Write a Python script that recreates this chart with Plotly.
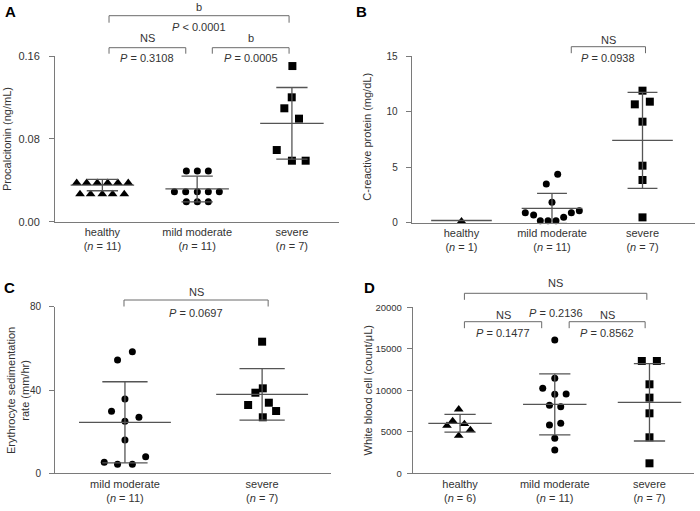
import plotly.graph_objects as go

W, H = 700, 511

# ---------------- data ----------------
CATS3 = ["healthy", "mild moderate", "severe"]
N_A = [11, 11, 7]
N_B = [1, 11, 7]
CATS2 = ["mild moderate", "severe"]
N_C = [11, 7]
N_D = [6, 11, 7]

# Panel A: procalcitonin (ng/mL)
A_healthy = [0.0376, 0.0376, 0.0376, 0.0376, 0.0376, 0.0376,
             0.0267, 0.0267, 0.0267, 0.0267, 0.0267]
A_mild = [0.049, 0.049, 0.049, 0.029, 0.029, 0.029, 0.029, 0.029,
          0.0193, 0.0193, 0.0193]
A_severe = [0.1503, 0.1201, 0.1095, 0.0995, 0.0692, 0.0589, 0.0589]
A_mean = [0.0354, 0.0316, 0.095]
A_sd = [0.0055, 0.0124, 0.0346]

# Panel B: C-reactive protein (mg/dL)
B_healthy = [0.13]
B_mild = [0.9, 0.69, 0.18, 0.18, 0.18, 1.83, 3.48, 4.35, 0.48, 0.9, 1.08]
B_severe = [11.88, 10.65, 10.89, 9.09, 5.13, 3.84, 0.48]
B_mean = [0.2, 1.29, 7.41]
B_sd = [None, 1.35, 4.32]

# Panel C: erythrocyte sedimentation rate (mm/hr)
C_mild = [58.4, 54.4, 35.7, 29.8, 26.9, 25.0, 16.0, 8.0, 5.3, 4.3, 4.3]
C_severe = [63.2, 38.7, 40.8, 32.8, 33.9, 29.9, 26.9]
C_mean = [24.5, 37.9]
C_sd = [19.45, 12.4]

# Panel D: white blood cell (count/uL)
D_healthy = [7711, 6305, 5743, 5944, 5221, 4538]
D_mild = [16064, 11446, 10241, 9518, 9558, 8193, 8032, 5823, 6024, 4217, 2811]
D_severe = [13534, 13534, 10723, 9116, 7229, 4337, 1205]
D_mean = [6024, 8313, 8554]
D_sd = [1065, 3675, 4660]

# ---------------- layout helpers (positions / styles) ----------------
# horizontal scatter offsets (category units) of the dot-plot arrangement
JIT_A = [
    [-0.271, -0.166, -0.054, 0.056, 0.164, 0.273, -0.236, -0.124, -0.001, 0.108, 0.231],
    [-0.114, 0.002, 0.118, -0.24, -0.121, 0.002, 0.118, 0.234, -0.114, 0.002, 0.118],
    [0.005, -0.002, -0.08, 0.075, -0.16, 0.0, 0.145],
]
JIT_B = [
    [0.0],
    [-0.295, -0.203, -0.129, -0.044, 0.044, 0.0, -0.063, 0.063, 0.129, 0.214, 0.302],
    [0.0, -0.085, 0.081, 0.0, 0.0, 0.0, 0.0],
]
JIT_C = [
    [0.054, -0.054, 0.0, -0.098, 0.102, 0.0, 0.0, 0.151, -0.151, -0.054, 0.054],
    [0.0, -0.049, 0.005, -0.102, 0.049, 0.102, 0.005],
]
JIT_D = [
    [-0.014, -0.078, -0.138, 0.046, 0.109, -0.014],
    [0.0, 0.0, -0.127, 0.0, 0.12, -0.056, 0.063, -0.056, 0.063, 0.0, 0.0],
    [-0.081, 0.078, 0.0, 0.0, 0.0, 0.0, 0.0],
]

SYMS3 = ["triangle-up", "circle", "square"]
SYMS2 = ["circle", "square"]
MSIZE = {"triangle-up": 8.5, "circle": 7, "square": 8}

TXT = "#333333"
AX = "#7a7a7a"
LN = "#555555"
FONT = "Liberation Sans, Arial, sans-serif"

# panel boxes in pixels: x0, x1, ytop, ybottom ; y tick font size ; tick label standoff
BOX = {
    "A": (55, 339.3, 56, 221.7, 11, 7),
    "B": (411.7, 695, 56, 222.7, 10, 6),
    "C": (55, 330.7, 306.7, 473.3, 10, 6),
    "D": (412.7, 694, 307.3, 473.3, 9.5, 3),
}


def py(ypx):
    return 1 - ypx / H


fig = go.Figure()

panels = [
    ("A", "", [A_healthy, A_mild, A_severe], JIT_A, SYMS3, A_mean, A_sd, CATS3, N_A,
     [-0.5, 2.5], [0, 0.16], [0, 0.08, 0.16], ".2f"),
    ("B", "2", [B_healthy, B_mild, B_severe], JIT_B, SYMS3, B_mean, B_sd, CATS3, N_B,
     [-0.55, 2.58], [0, 15], [0, 5, 10, 15], "d"),
    ("C", "3", [C_mild, C_severe], JIT_C, SYMS2, C_mean, C_sd, CATS2, N_C,
     [-0.51, 1.5], [0, 80], [0, 40, 80], "d"),
    ("D", "4", [D_healthy, D_mild, D_severe], JIT_D, SYMS3, D_mean, D_sd, CATS3, N_D,
     [-0.5, 2.47], [0, 20000], [0, 5000, 10000, 15000, 20000], "d"),
]

for key, sfx, groups, jit, syms, means, sds, cats, ns, xr, yr, tv, fmt in panels:
    xa, ya = "x" + sfx, "y" + sfx
    for i, vals in enumerate(groups):
        fig.add_trace(go.Scatter(
            x=[i + o for o in jit[i]], y=vals, mode="markers", xaxis=xa, yaxis=ya,
            marker=dict(symbol=syms[i], size=MSIZE[syms[i]], color="black", line=dict(width=0)),
            cliponaxis=False, showlegend=False, hoverinfo="skip"))
    lx, ly = [], []
    for i, (m, s) in enumerate(zip(means, sds)):
        lx += [i - 0.335, i + 0.335, None]
        ly += [m, m, None]
        if s is not None:
            lx += [i - 0.165, i + 0.165, None, i - 0.165, i + 0.165, None, i, i, None]
            ly += [m + s, m + s, None, m - s, m - s, None, m - s, m + s, None]
    fig.add_trace(go.Scatter(x=lx, y=ly, mode="lines", xaxis=xa, yaxis=ya,
                             line=dict(color=LN, width=1.3), showlegend=False, hoverinfo="skip"))

    x0, x1, yt, yb, yfs, ystand = BOX[key]
    axname = "xaxis" + sfx
    ayname = "yaxis" + sfx
    fig.layout[axname] = dict(
        domain=[x0 / W, x1 / W], anchor=ya, range=xr, tickvals=list(range(len(cats))),
        ticktext=[f"{c}<br>(<i>n</i> = {n})" for c, n in zip(cats, ns)],
        showline=True, linecolor=AX, linewidth=1, ticks="", showgrid=False, zeroline=False,
        tickfont=dict(family=FONT, size=11, color=TXT), fixedrange=True, automargin=False)
    fig.layout[ayname] = dict(
        domain=[py(yb), py(yt)], anchor=xa, range=yr, tickvals=tv, tickformat=fmt,
        showline=True, linecolor=AX, linewidth=1, ticks="outside", ticklen=5, tickcolor=AX,
        ticklabelstandoff=ystand,
        showgrid=False, zeroline=False, tickfont=dict(family=FONT, size=yfs, color=TXT),
        fixedrange=True, automargin=False)

# ---------------- significance brackets ----------------
BRACKETS = [
    ("", 0.07, 1.97, 15.7, 7, "b", 7.3, "<i>P</i> < 0.0001", 26.7),
    ("", 0.07, 0.88, 47.7, 6, "NS", 38.3, "<i>P</i> = 0.3108", 58.3),
    ("", 1.16, 1.97, 47.7, 6, "b", 38.3, "<i>P</i> = 0.0005", 58.3),
    ("2", 1.213, 2.033, 46.7, 6.5, "NS", 40.0, "<i>P</i> = 0.0938", 58.3),
    ("3", -0.007, 1.044, 300.0, 6.5, "NS", 291.7, "<i>P</i> = 0.0697", 312.7),
    ("4", 0.046, 1.972, 293.3, 6.5, "NS", 283.3, "<i>P</i> = 0.2136", 313.3),
    ("4", 0.046, 0.862, 321.7, 6.5, "NS", 315.0, "<i>P</i> = 0.1477", 333.3),
    ("4", 1.152, 1.954, 321.7, 6.5, "NS", 315.0, "<i>P</i> = 0.8562", 333.3),
]
for sfx, xl, xr_, yb_, drop, lab, ylab, ptxt, yp in BRACKETS:
    xa = "x" + sfx
    fig.add_shape(type="path", xref=xa, yref="paper",
                  path=f"M {xl},{py(yb_ + drop)} L {xl},{py(yb_)} L {xr_},{py(yb_)} L {xr_},{py(yb_ + drop)}",
                  line=dict(color="#6a6a6a", width=1))
    xm = (xl + xr_) / 2
    fig.add_annotation(x=xm, y=py(ylab), xref=xa, yref="paper", text=lab, showarrow=False,
                       xanchor="center", yanchor="middle", font=dict(family=FONT, size=11, color=TXT))
    fig.add_annotation(x=xm, y=py(yp), xref=xa, yref="paper", text=ptxt, showarrow=False,
                       xanchor="center", yanchor="middle", font=dict(family=FONT, size=11, color=TXT))

# ---------------- panel letters & axis titles ----------------
for lab, xp, yp in [("A", 10.5, 11), ("B", 361, 11), ("C", 9.5, 287), ("D", 369.5, 287)]:
    fig.add_annotation(x=xp / W, y=py(yp), xref="paper", yref="paper", text=f"<b>{lab}</b>",
                       showarrow=False, xanchor="center", yanchor="middle",
                       font=dict(family=FONT, size=15, color="black"))

YT = [
    ("Procalcitonin (ng/mL)", 7, 139, 11),
    ("C-reactive protein (mg/dL)", 366.7, 137, 11),
    ("Erythrocyte sedimentation<br>rate (mm/hr)", 18, 391, 11),
    ("White blood cell (count/μL)", 367.5, 391, 11),
]
for t, xp, yp, fs in YT:
    fig.add_annotation(x=xp / W, y=py(yp), xref="paper", yref="paper", text=t, textangle=-90,
                       showarrow=False, xanchor="center", yanchor="middle",
                       font=dict(family=FONT, size=fs, color=TXT))

fig.update_layout(width=W, height=H, margin=dict(l=0, r=0, t=0, b=0, autoexpand=False),
                  paper_bgcolor="white", plot_bgcolor="white", showlegend=False)

fig.write_html("out.html", config={"displayModeBar": False},
               post_script="document.body.style.margin='0';document.body.style.overflow='hidden';")
